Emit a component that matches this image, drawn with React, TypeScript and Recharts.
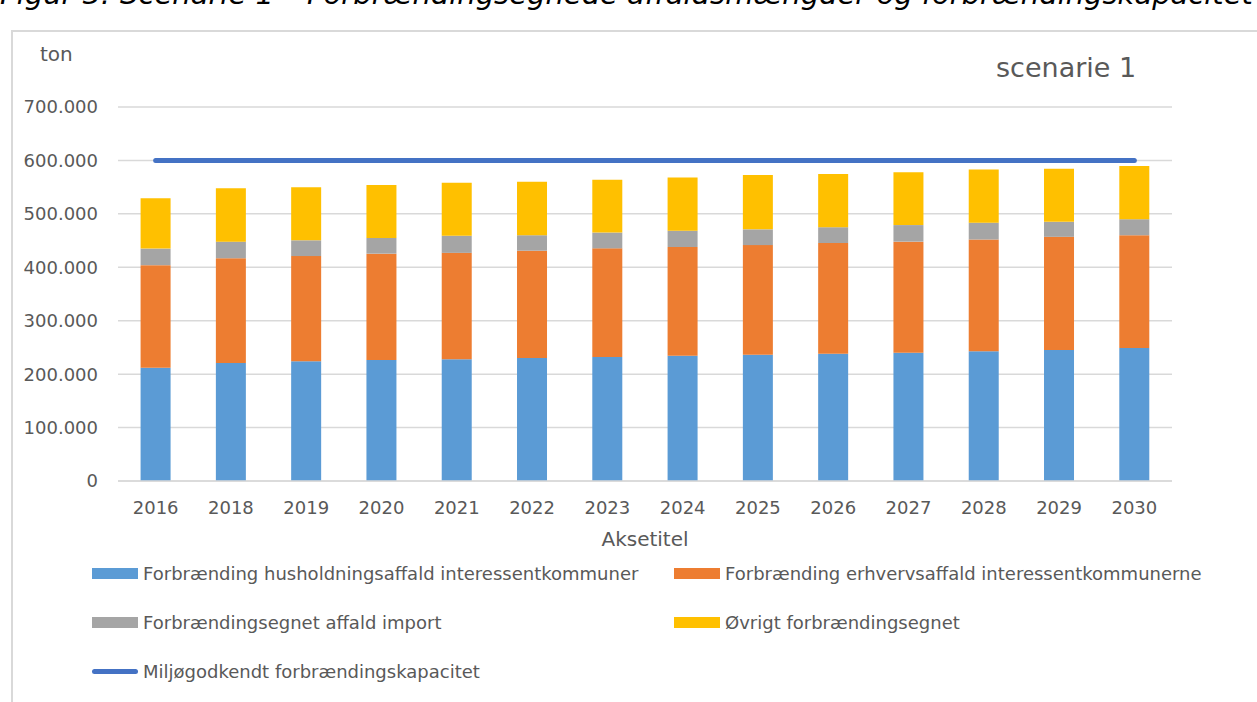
import React from "react";
import {
  ComposedChart,
  Bar,
  Line,
  XAxis,
  YAxis,
  CartesianGrid,
} from "recharts";

const years = [
  "2016", "2018", "2019", "2020", "2021", "2022", "2023",
  "2024", "2025", "2026", "2027", "2028", "2029", "2030",
];
const husholdning = [
  212000, 221000, 224000, 226500, 228000, 230000, 232000,
  234500, 236500, 238000, 240000, 243000, 245000, 249000,
];
const erhverv = [
  192000, 196000, 197000, 199000, 199000, 201000, 203500,
  203500, 205000, 207500, 208000, 209000, 212000, 211000,
];
const importAffald = [
  31000, 31000, 29500, 29500, 32000, 29000, 29500,
  30500, 29500, 29500, 31000, 31500, 28000, 30000,
];
const oevrigt = [
  94000, 100000, 99500, 99000, 99000, 100000, 99000,
  99500, 101500, 99500, 99000, 99500, 99500, 99600,
];
const kapacitet = [
  600000, 600000, 600000, 600000, 600000, 600000, 600000,
  600000, 600000, 600000, 600000, 600000, 600000, 600000,
];
const yTicks = [0, 100000, 200000, 300000, 400000, 500000, 600000, 700000];

const seriesNames = {
  hus: "Forbrænding husholdningsaffald interessentkommuner",
  erh: "Forbrænding erhvervsaffald interessentkommunerne",
  imp: "Forbrændingsegnet affald import",
  ovr: "Øvrigt forbrændingsegnet",
  kap: "Miljøgodkendt forbrændingskapacitet",
};

const colors = {
  hus: "#5B9BD5",
  erh: "#ED7D31",
  imp: "#A5A5A5",
  ovr: "#FFC000",
  kap: "#4472C4",
};

const data = years.map((year, i) => ({
  year,
  hus: husholdning[i],
  erh: erhverv[i],
  imp: importAffald[i],
  ovr: oevrigt[i],
  kap: kapacitet[i],
}));

const font = "'DejaVu Sans', Verdana, sans-serif";
const textColor = "#595959";

const fmt = (v: number) => String(v).replace(/\B(?=(\d{3})+(?!\d))/g, ".");

// legend laid out like the Excel one: two columns, three rows
const legendItems = [
  { key: "hus", x: 92, y: 573, line: false },
  { key: "erh", x: 674, y: 573, line: false },
  { key: "imp", x: 92, y: 622, line: false },
  { key: "ovr", x: 674, y: 622, line: false },
  { key: "kap", x: 92, y: 671, line: true },
] as const;

function LegendBox() {
  return (
    <>
      {legendItems.map((it) => (
        <div
          key={it.key}
          style={{
            position: "absolute",
            left: it.x,
            top: it.y - 11,
            height: 22,
            display: "flex",
            alignItems: "center",
            whiteSpace: "nowrap",
          }}
        >
          <span
            style={{
              display: "inline-block",
              width: 46,
              height: it.line ? 5 : 11,
              borderRadius: it.line ? 3 : 0,
              background: colors[it.key],
              marginRight: 5,
            }}
          />
          <span style={{ fontFamily: font, fontSize: 18, color: textColor }}>
            {seriesNames[it.key]}
          </span>
        </div>
      ))}
    </>
  );
}

export default function App() {
  return (
    <div
      style={{
        position: "fixed",
        left: 0,
        top: 0,
        width: 1257,
        height: 702,
        overflow: "hidden",
        background: "#fff",
      }}
    >
      <div
        style={{
          position: "absolute",
          left: 0,
          top: -20,
          lineHeight: "29px",
          whiteSpace: "nowrap",
          fontFamily: font,
          fontStyle: "italic",
          fontSize: 29,
          color: "#000",
        }}
      >
        Figur 3: Scenarie 1 – Forbrændingsegnede affaldsmængder og forbrændingskapacitet
      </div>
      <div
        style={{
          position: "absolute",
          left: 11,
          top: 30,
          width: 1300,
          height: 720,
          border: "2px solid #d9d9d9",
          boxSizing: "border-box",
        }}
      />
      <div
        style={{
          position: "absolute",
          left: 40,
          top: 42,
          fontFamily: font,
          fontSize: 20,
          color: textColor,
        }}
      >
        ton
      </div>
      <div
        style={{
          position: "absolute",
          left: 996,
          top: 52,
          fontFamily: font,
          fontSize: 27,
          color: textColor,
        }}
      >
        scenarie 1
      </div>
      <div
        style={{
          position: "absolute",
          left: 545,
          width: 200,
          textAlign: "center",
          top: 527,
          fontFamily: font,
          fontSize: 20,
          color: textColor,
        }}
      >
        Aksetitel
      </div>
      <LegendBox />
      <div style={{ position: "absolute", left: 0, top: 0 }}>
        <ComposedChart
          width={1257}
          height={702}
          data={data}
          barCategoryGap="30%"
          margin={{ top: 107, right: 85, left: 18, bottom: 191 }}
        >
          <CartesianGrid vertical={false} stroke="#d9d9d9" strokeWidth={1.5} />
          <XAxis
            dataKey="year"
            height={30}
            tickSize={0}
            tickMargin={20}
            axisLine={{ stroke: "#d9d9d9", strokeWidth: 1.5 }}
            tickLine={false}
            tick={{ fontFamily: font, fontSize: 18, fill: textColor }}
          />
          <YAxis
            width={100}
            domain={[0, 700000]}
            ticks={yTicks}
            tickFormatter={fmt}
            axisLine={false}
            tickLine={false}
            tickSize={0}
            tickMargin={20}
            tick={{ fontFamily: font, fontSize: 18, fill: textColor }}
          />
          <Bar dataKey="hus" name={seriesNames.hus} stackId="a" fill={colors.hus} isAnimationActive={false} />
          <Bar dataKey="erh" name={seriesNames.erh} stackId="a" fill={colors.erh} isAnimationActive={false} />
          <Bar dataKey="imp" name={seriesNames.imp} stackId="a" fill={colors.imp} isAnimationActive={false} />
          <Bar dataKey="ovr" name={seriesNames.ovr} stackId="a" fill={colors.ovr} isAnimationActive={false} />
          <Line
            dataKey="kap"
            name={seriesNames.kap}
            stroke={colors.kap}
            strokeWidth={5}
            strokeLinecap="round"
            dot={false}
            activeDot={false}
            isAnimationActive={false}
          />
        </ComposedChart>
      </div>
    </div>
  );
}
